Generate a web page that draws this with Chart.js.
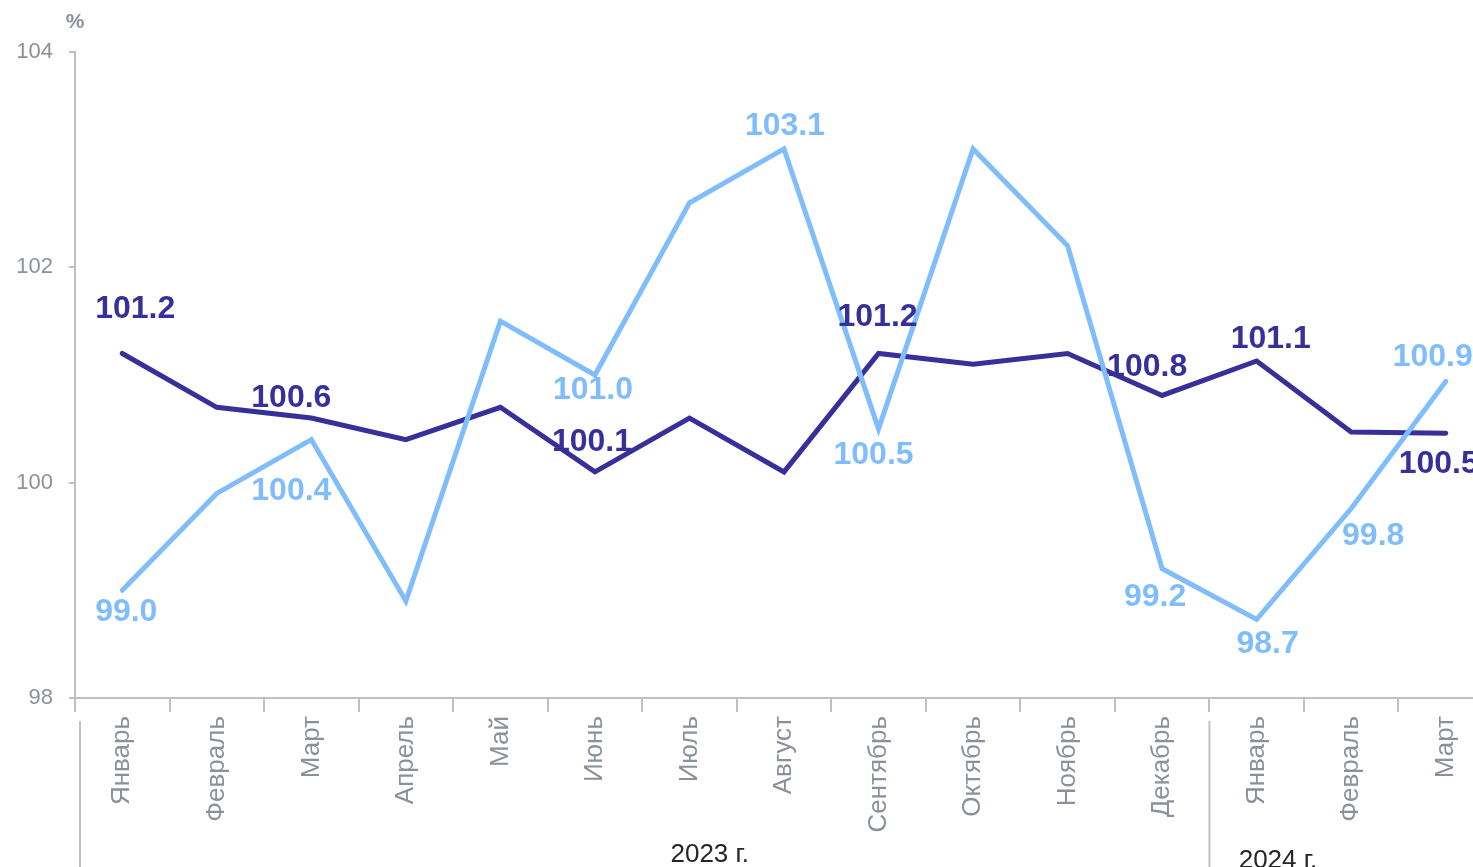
<!DOCTYPE html>
<html>
<head>
<meta charset="utf-8">
<script src="https://cdn.jsdelivr.net/npm/chart.js@4.4.1/dist/chart.umd.min.js"></script>
<style>
  html, body { margin: 0; padding: 0; background: #fff; overflow: hidden; width: 1473px; height: 867px; }
  #wrap { position: relative; width: 1473px; height: 867px; overflow: hidden; }
  canvas { display: block; }
</style>
</head>
<body>
<div id="wrap"><canvas id="c" width="1493" height="867"></canvas></div>
<script>
// ---- data ----
const months = ["Январь","Февраль","Март","Апрель","Май","Июнь","Июль","Август","Сентябрь","Октябрь","Ноябрь","Декабрь","Январь","Февраль","Март"];
const years = [{ label: "2023 г.", from: 0, to: 11 }, { label: "2024 г.", from: 12, to: 14 }];
const seriesDark = [101.2, 100.7, 100.6, 100.4, 100.7, 100.1, 100.6, 100.1, 101.2, 101.1, 101.2, 100.81, 101.13, 100.47, 100.46];
const seriesLight = [99.0, 99.9, 100.4, 98.9, 101.5, 101.0, 102.6, 103.1, 100.5, 103.1, 102.2, 99.2, 98.73, 99.76, 100.94];
const yTicks = [98, 100, 102, 104];
const unitLabel = "%";

const DARK = "#37309a";
const LIGHT = "#80bdfc";
const AXIS = "#c0c0c0";
const TICKTXT = "#8c909a";
const FONT = "'Liberation Sans', Arial, sans-serif";

// which points get a value label, and where (offsets in px from point)
const labelPlacement = [
  { ds: 1, items: [[0, 13, -44], [2, -20, -20], [5, -3, -30], [8, -1, -36], [11, -15, -28], [12, 14, -22], [14, -7, 31]] },
  { ds: 0, items: [[0, 4, 22], [2, -20, 52], [5, -2, 15], [7, 1, -23], [8, -5, 26], [11, -7, 28], [12, 11, 25], [13, 22, 28], [14, -13, -24]] }
];

const valueLabels = {
  id: 'valueLabels',
  afterDatasetsDraw(chart) {
    const ctx = chart.ctx;
    ctx.save();
    ctx.font = "bold 32px " + FONT;
    ctx.textAlign = 'center';
    ctx.textBaseline = 'middle';
    labelPlacement.forEach(g => {
      const meta = chart.getDatasetMeta(g.ds);
      const ds = chart.data.datasets[g.ds];
      ctx.fillStyle = ds.borderColor;
      g.items.forEach(([i, dx, dy]) => {
        const p = meta.data[i];
        ctx.fillText(ds.data[i].toFixed(1), p.x + dx, p.y + dy);
      });
    });
    ctx.restore();
  }
};

const extras = {
  id: 'extras',
  afterDraw(chart) {
    const ctx = chart.ctx;
    const x = chart.scales.x;
    const ca = chart.chartArea;
    const half = (x.getPixelForValue(1) - x.getPixelForValue(0)) / 2;
    ctx.save();
    // unit label
    ctx.font = "bold 21px " + FONT;
    ctx.fillStyle = TICKTXT;
    ctx.textAlign = 'center';
    ctx.textBaseline = 'middle';
    ctx.fillText(unitLabel, ca.left, 22);
    // year group separators + labels
    ctx.strokeStyle = AXIS;
    ctx.lineWidth = 2;
    years.forEach((y, k) => {
      let sx = x.getPixelForValue(y.from) - half;
      if (k === 0) sx += 5;
      ctx.beginPath();
      ctx.moveTo(sx, ca.bottom + 23);
      ctx.lineTo(sx, chart.height);
      ctx.stroke();
    });
    ctx.font = "26px " + FONT;
    ctx.fillStyle = "#262626";
    ctx.textAlign = 'left';
    ctx.textBaseline = 'alphabetic';
    ctx.fillText(years[0].label, x.getPixelForValue(6) - 19, 862);
    ctx.fillText(years[1].label, x.getPixelForValue(12) - 18, 868);
    ctx.restore();
  }
};

new Chart(document.getElementById('c'), {
  type: 'line',
  data: {
    labels: months,
    datasets: [
      { data: seriesLight, borderColor: LIGHT, backgroundColor: LIGHT, borderWidth: 5, pointRadius: 0, tension: 0, borderCapStyle: 'round' },
      { data: seriesDark, borderColor: DARK, backgroundColor: DARK, borderWidth: 5, pointRadius: 0, tension: 0, borderCapStyle: 'round' }
    ]
  },
  options: {
    responsive: false,
    animation: false,
    layout: { padding: { top: 52, left: 0, right: 0, bottom: 0 } },
    plugins: { legend: { display: false }, tooltip: { enabled: false } },
    scales: {
      x: {
        offset: true,
        border: { display: true, color: AXIS, width: 2 },
        grid: { display: true, drawOnChartArea: false, drawTicks: true, tickLength: 14, color: AXIS, lineWidth: 2, offset: true },
        ticks: { autoSkip: false, maxRotation: 90, minRotation: 90, padding: 4, color: TICKTXT, font: { family: FONT, size: 26 } },
        afterFit(s) { s.height = 169; }
      },
      y: {
        min: 98, max: 104,
        afterBuildTicks(s) { s.ticks = yTicks.map(v => ({ value: v })); },
        border: { display: true, color: AXIS, width: 2 },
        grid: { display: true, drawOnChartArea: false, drawTicks: true, tickLength: 6, color: AXIS, lineWidth: 2 },
        ticks: { padding: 16, color: TICKTXT, font: { family: FONT, size: 22 } },
        afterFit(s) { s.width = 75; }
      }
    }
  },
  plugins: [valueLabels, extras]
});
</script>
</body>
</html>
